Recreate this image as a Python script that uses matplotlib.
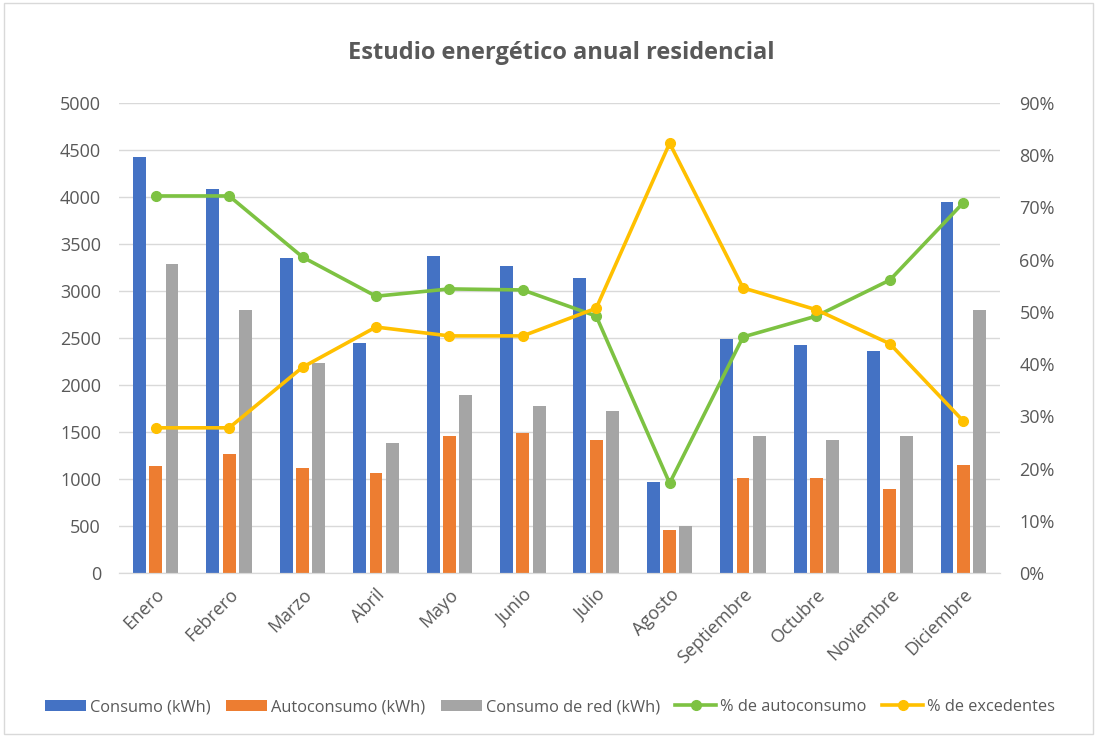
import matplotlib
matplotlib.use("Agg")
import matplotlib.pyplot as plt
import numpy as np
from matplotlib.patches import Rectangle

months = ["Enero", "Febrero", "Marzo", "Abril", "Mayo", "Junio", "Julio",
          "Agosto", "Septiembre", "Octubre", "Noviembre", "Diciembre"]
consumo = [4430, 4085, 3350, 2450, 3375, 3265, 3140, 970, 2490, 2425, 2365, 3950]
autoconsumo = [1140, 1265, 1120, 1065, 1460, 1490, 1415, 460, 1010, 1010, 895, 1150]
consumo_red = [3285, 2800, 2235, 1385, 1895, 1780, 1725, 500, 1460, 1415, 1460, 2800]
pct_auto = [72.2, 72.2, 60.5, 53.0, 54.4, 54.2, 49.2, 17.2, 45.2, 49.2, 56.1, 70.9]
pct_exc = [27.8, 27.8, 39.4, 47.1, 45.4, 45.4, 50.7, 82.3, 54.6, 50.4, 43.9, 29.1]

plt.rcParams['font.family'] = ['Open Sans', 'DejaVu Sans']
txt = "#595959"

fig = plt.figure(figsize=(11, 7.38), dpi=100)
ax = fig.add_axes([119 / 1100, 1 - 573 / 738, 881 / 1100, 470 / 738])
ax2 = ax.twinx()

x = np.arange(len(months))
w = 0.175
off = 0.222
b1 = ax.bar(x - off, consumo, w, color="#4472C4", label="Consumo (kWh)", zorder=2)
b2 = ax.bar(x, autoconsumo, w, color="#ED7D31", label="Autoconsumo (kWh)", zorder=2)
b3 = ax.bar(x + off, consumo_red, w, color="#A5A5A5", label="Consumo de red (kWh)", zorder=2)

l1, = ax2.plot(x, pct_auto, color="#7DC242", lw=2.6, marker="o", ms=7,
               label="% de autoconsumo", zorder=3)
l2, = ax2.plot(x, pct_exc, color="#FFC000", lw=2.6, marker="o", ms=7,
               label="% de excedentes", zorder=3)

ax.set_xlim(-0.5, 11.5)
ax.set_ylim(0, 5000)
ax.set_yticks(np.arange(0, 5001, 500))
ax2.set_ylim(0, 90)
ax2.set_yticks(np.arange(0, 91, 10))
ax2.set_yticklabels([f"{v}%" for v in range(0, 91, 10)])

ax.grid(axis="y", color="#D9D9D9", lw=1, zorder=0)
ax.set_axisbelow(True)
for a in (ax, ax2):
    for s in ("top", "left", "right"):
        a.spines[s].set_visible(False)
    a.spines["bottom"].set_color("#D9D9D9")
    a.tick_params(axis="both", length=0, colors=txt, labelsize=13)
ax.tick_params(axis="y", pad=13)
ax2.tick_params(axis="y", pad=14)

ax.set_xticks(x)
ax.set_xticklabels(months, rotation=45, ha="right", rotation_mode="anchor", fontsize=13, color=txt)
ax.tick_params(axis="x", pad=9)

fig.text(0.51, 0.928, "Estudio energético anual residencial", ha="center", va="center",
         fontsize=17, fontweight="bold", color=txt)

handles = [b1, b2, b3, l1, l2]
fig.legend(handles, [h.get_label() for h in handles], loc="center", bbox_to_anchor=(0.5, 0.042),
           ncol=5, frameon=False, fontsize=11.8, labelcolor=txt, handlelength=2.5,
           handletextpad=0.25, columnspacing=0.95)

fig.patches.append(Rectangle((0.004, 0.006), 0.99, 0.99, transform=fig.transFigure,
                             fill=False, edgecolor="#D9D9D9", lw=1))

fig.savefig("out.png", dpi=100)
